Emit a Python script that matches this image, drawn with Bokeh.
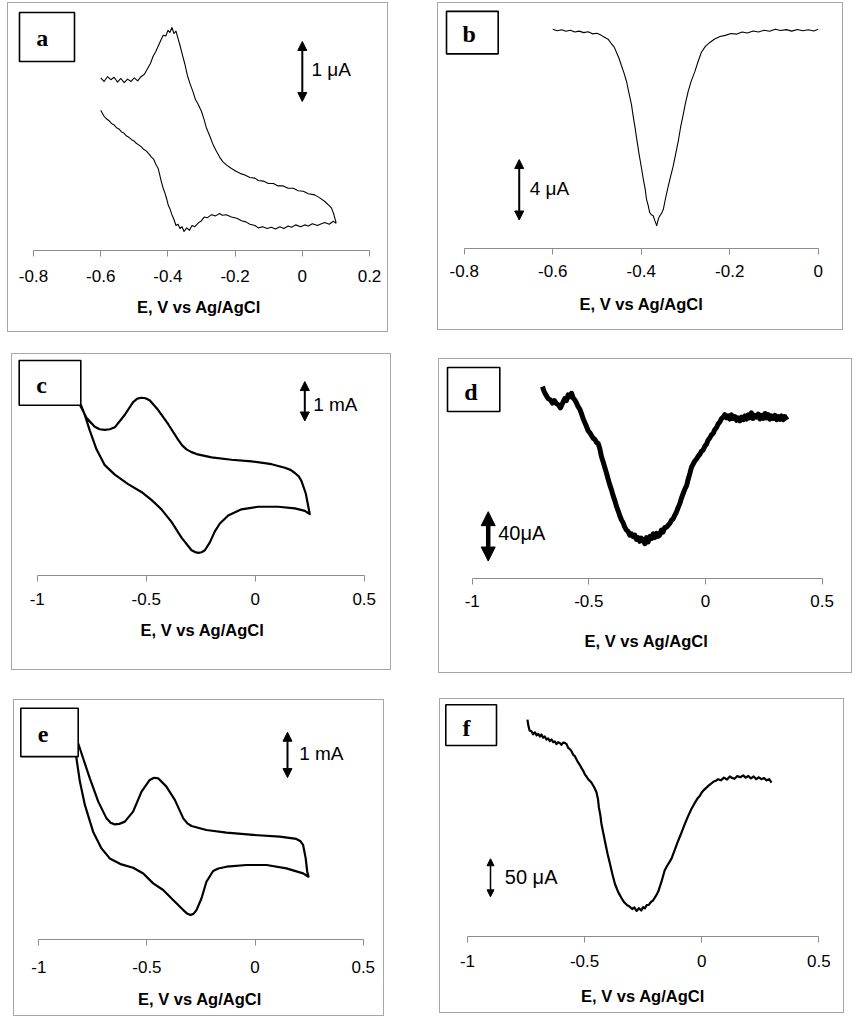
from bokeh.plotting import figure
from bokeh.layouts import row, column
from bokeh.models import (FixedTicker, NumeralTickFormatter, BoxAnnotation, Label,
                          Arrow, NormalHead)
from bokeh.embed import file_html
from bokeh.resources import INLINE

# ---------------- data (E in V vs Ag/AgCl, current in panel units) ----------------
# (a) CV, uA
a_scan = [(-0.600, 2.06), (-0.590, 2.00), (-0.580, 2.08), (-0.570, 2.03), (-0.560, 2.07), (-0.550, 1.99),
          (-0.540, 2.05), (-0.530, 1.98), (-0.520, 2.04), (-0.510, 2.00), (-0.500, 2.06), (-0.490, 2.01),
          (-0.480, 2.08), (-0.470, 2.12), (-0.460, 2.22), (-0.452, 2.30), (-0.444, 2.42), (-0.436, 2.50),
          (-0.428, 2.60), (-0.420, 2.70), (-0.414, 2.77), (-0.406, 2.76), (-0.400, 2.85), (-0.394, 2.82),
          (-0.388, 2.90), (-0.382, 2.80), (-0.376, 2.84), (-0.370, 2.72), (-0.364, 2.60), (-0.358, 2.47),
          (-0.350, 2.30), (-0.342, 2.10), (-0.334, 1.96), (-0.326, 1.84), (-0.318, 1.70), (-0.310, 1.62),
          (-0.300, 1.50), (-0.292, 1.36), (-0.285, 1.22), (-0.276, 1.10), (-0.265, 0.94), (-0.256, 0.84),
          (-0.246, 0.74), (-0.236, 0.66), (-0.226, 0.61), (-0.211, 0.55), (-0.196, 0.50), (-0.181, 0.46),
          (-0.171, 0.44), (-0.156, 0.40), (-0.141, 0.39), (-0.131, 0.35), (-0.116, 0.34), (-0.101, 0.30),
          (-0.086, 0.30), (-0.072, 0.26), (-0.057, 0.26), (-0.042, 0.22), (-0.027, 0.22), (-0.012, 0.18),
          (0.003, 0.17), (0.018, 0.13), (0.037, 0.11), (0.052, 0.06), (0.067, 0.00), (0.080, -0.07),
          (0.087, -0.11), (0.093, -0.20), (0.097, -0.28), (0.100, -0.34),
          (0.100, -0.36), (0.092, -0.33), (0.080, -0.38), (0.067, -0.35), (0.057, -0.37), (0.045, -0.40),
          (0.030, -0.37), (0.018, -0.41), (0.007, -0.39), (-0.005, -0.42), (-0.020, -0.39), (-0.032, -0.43),
          (-0.042, -0.41), (-0.055, -0.45), (-0.067, -0.42), (-0.080, -0.46), (-0.092, -0.43), (-0.105, -0.45),
          (-0.118, -0.42), (-0.131, -0.44), (-0.141, -0.40), (-0.156, -0.38), (-0.168, -0.34), (-0.181, -0.32),
          (-0.195, -0.28), (-0.211, -0.26), (-0.226, -0.22), (-0.238, -0.23), (-0.246, -0.20), (-0.258, -0.24),
          (-0.270, -0.22), (-0.282, -0.27), (-0.292, -0.26), (-0.300, -0.32), (-0.310, -0.36), (-0.320, -0.42),
          (-0.328, -0.40), (-0.336, -0.48), (-0.344, -0.44), (-0.352, -0.50), (-0.358, -0.42), (-0.364, -0.45),
          (-0.370, -0.38), (-0.376, -0.40), (-0.382, -0.30), (-0.388, -0.22), (-0.394, -0.12), (-0.399, -0.06),
          (-0.404, 0.05), (-0.410, 0.16), (-0.414, 0.22), (-0.420, 0.34), (-0.425, 0.46), (-0.429, 0.55),
          (-0.436, 0.62), (-0.442, 0.70), (-0.449, 0.74), (-0.456, 0.79), (-0.464, 0.84), (-0.472, 0.87),
          (-0.479, 0.91), (-0.486, 0.94), (-0.494, 0.97), (-0.501, 1.01), (-0.508, 1.03), (-0.516, 1.07),
          (-0.523, 1.09), (-0.531, 1.14), (-0.538, 1.16), (-0.546, 1.21), (-0.553, 1.23), (-0.561, 1.28),
          (-0.568, 1.30), (-0.576, 1.35), (-0.583, 1.38), (-0.590, 1.42), (-0.595, 1.47), (-0.600, 1.52)]

# (b) stripping voltammogram, uA
b_scan = [(-0.600, -0.02), (-0.590, -0.12), (-0.580, -0.05), (-0.570, -0.15), (-0.560, -0.08), (-0.550, -0.20),
          (-0.540, -0.14), (-0.530, -0.24), (-0.520, -0.18), (-0.510, -0.32), (-0.500, -0.28), (-0.490, -0.42),
          (-0.482, -0.56), (-0.474, -0.70), (-0.467, -0.99), (-0.461, -1.20), (-0.456, -1.54), (-0.450, -1.95),
          (-0.445, -2.40), (-0.439, -2.90), (-0.433, -3.49), (-0.428, -4.20), (-0.422, -5.00), (-0.418, -5.80),
          (-0.414, -6.51), (-0.410, -7.30), (-0.405, -8.25), (-0.400, -9.10), (-0.395, -9.98), (-0.391, -10.60),
          (-0.388, -11.28), (-0.384, -11.70), (-0.381, -12.14), (-0.377, -12.30), (-0.373, -12.36), (-0.369, -12.70),
          (-0.365, -13.01), (-0.361, -12.55), (-0.358, -12.36), (-0.354, -12.20), (-0.350, -11.93), (-0.345, -11.20),
          (-0.339, -10.41), (-0.334, -9.80), (-0.328, -9.11), (-0.322, -8.25), (-0.316, -7.38), (-0.311, -6.50),
          (-0.305, -5.65), (-0.300, -4.90), (-0.294, -4.14), (-0.287, -3.45), (-0.279, -2.84), (-0.272, -2.20),
          (-0.264, -1.54), (-0.255, -1.15), (-0.245, -0.89), (-0.234, -0.66), (-0.222, -0.50), (-0.210, -0.42),
          (-0.197, -0.30), (-0.185, -0.34), (-0.172, -0.20), (-0.160, -0.26), (-0.147, -0.13), (-0.135, -0.20),
          (-0.122, -0.08), (-0.110, -0.15), (-0.097, -0.02), (-0.085, -0.10), (-0.072, -0.04), (-0.060, -0.14),
          (-0.047, -0.03), (-0.035, -0.12), (-0.022, -0.05), (-0.010, -0.13), (0.000, -0.02)]

# (c) CV, mA
c_scan = [(-0.805, 1.439), (-0.774, 1.103), (-0.736, 0.880), (-0.713, 0.815), (-0.690, 0.799), (-0.667, 0.815),
          (-0.644, 0.863), (-0.598, 1.182), (-0.560, 1.504), (-0.541, 1.590), (-0.522, 1.614), (-0.503, 1.600),
          (-0.483, 1.542), (-0.445, 1.302), (-0.399, 0.942), (-0.353, 0.544), (-0.334, 0.400), (-0.315, 0.305),
          (-0.292, 0.235), (-0.269, 0.185), (-0.200, 0.103), (-0.109, 0.041), (-0.017, 0.000), (0.075, -0.072),
          (0.136, -0.161), (0.162, -0.215), (0.182, -0.295), (0.200, -0.380), (0.212, -0.496), (0.232, -0.815),
          (0.246, -1.216), (0.250, -1.336),
          (0.228, -1.254), (0.182, -1.192), (0.106, -1.151), (0.014, -1.151), (-0.063, -1.216), (-0.124, -1.374),
          (-0.162, -1.576), (-0.185, -1.775), (-0.208, -2.055), (-0.231, -2.254), (-0.246, -2.305), (-0.261, -2.319),
          (-0.276, -2.300), (-0.292, -2.254), (-0.338, -1.935), (-0.384, -1.535), (-0.430, -1.216), (-0.476, -0.976),
          (-0.522, -0.775), (-0.583, -0.576), (-0.644, -0.336), (-0.690, -0.096), (-0.728, 0.305), (-0.759, 0.784),
          (-0.782, 1.182), (-0.800, 1.439)]

# (d) stripping voltammogram, uA
d_scan = [(-0.699, 24.3), (-0.690, 19.5), (-0.682, 17.0), (-0.674, 14.5), (-0.665, 13.5), (-0.656, 11.0),
          (-0.648, 13.0), (-0.639, 10.5), (-0.630, 9.5), (-0.622, 7.0), (-0.617, 9.0), (-0.610, 12.0),
          (-0.603, 14.5), (-0.596, 13.0), (-0.589, 17.6), (-0.582, 16.0), (-0.574, 18.9), (-0.567, 15.0),
          (-0.560, 13.5), (-0.553, 11.0), (-0.546, 8.0), (-0.539, 6.0), (-0.532, 2.7), (-0.524, -2.0),
          (-0.517, -5.0), (-0.510, -8.1), (-0.503, -11.5), (-0.496, -13.0), (-0.488, -15.5), (-0.481, -17.6),
          (-0.474, -18.5), (-0.467, -21.0), (-0.460, -21.7), (-0.453, -26.0), (-0.446, -32.4), (-0.439, -36.5),
          (-0.432, -41.0), (-0.424, -46.0), (-0.417, -51.0), (-0.410, -55.5), (-0.403, -59.4), (-0.396, -64.0),
          (-0.388, -68.5), (-0.381, -73.0), (-0.374, -76.5), (-0.367, -80.5), (-0.360, -83.8), (-0.353, -86.0),
          (-0.346, -89.5), (-0.339, -91.9), (-0.332, -93.0), (-0.325, -96.0), (-0.317, -95.0), (-0.310, -97.3),
          (-0.303, -96.0), (-0.296, -99.5), (-0.289, -98.0), (-0.282, -101.0), (-0.275, -98.5), (-0.267, -100.0),
          (-0.260, -103.0), (-0.253, -98.0), (-0.246, -101.5), (-0.238, -97.0), (-0.231, -98.7), (-0.224, -95.0),
          (-0.217, -98.0), (-0.210, -94.5), (-0.203, -97.0), (-0.196, -95.9), (-0.189, -92.0), (-0.182, -93.5),
          (-0.175, -90.0), (-0.167, -89.5), (-0.160, -88.0), (-0.153, -86.5), (-0.146, -84.0), (-0.139, -83.0),
          (-0.132, -80.0), (-0.125, -77.5), (-0.118, -74.0), (-0.110, -70.5), (-0.103, -66.0), (-0.096, -62.5),
          (-0.089, -59.0), (-0.081, -56.0), (-0.074, -50.5), (-0.067, -46.0), (-0.060, -41.0), (-0.053, -38.5),
          (-0.046, -36.0), (-0.039, -34.5), (-0.031, -32.0), (-0.024, -30.5), (-0.017, -28.0), (-0.010, -27.0),
          (-0.003, -24.0), (0.004, -22.5), (0.011, -19.0), (0.018, -17.5), (0.025, -15.0), (0.033, -13.5),
          (0.040, -10.5), (0.047, -9.0), (0.054, -6.0), (0.061, -4.5), (0.069, -1.5), (0.076, -0.5),
          (0.083, 1.5), (0.090, -1.0), (0.097, 0.5), (0.104, -2.0), (0.111, 1.5), (0.118, -1.5),
          (0.126, 0.0), (0.133, -3.0), (0.140, -1.0), (0.147, -3.5), (0.154, -0.5), (0.162, -2.5),
          (0.169, 0.5), (0.176, -2.0), (0.183, 1.5), (0.190, -1.0), (0.197, 3.0), (0.204, -1.5),
          (0.212, 1.0), (0.219, -0.5), (0.226, 2.0), (0.233, -2.0), (0.240, 1.0), (0.248, -1.5),
          (0.255, 2.5), (0.262, -1.0), (0.269, 1.5), (0.276, -2.0), (0.283, 0.5), (0.290, -1.5),
          (0.298, 1.0), (0.305, -2.5), (0.312, 0.0), (0.319, -2.2), (0.326, 0.5), (0.333, -2.5),
          (0.340, 0.0), (0.350, -2.7)]

# (e) CV, mA
e_scan = [(-0.818, 2.022), (-0.795, 1.691), (-0.764, 1.249), (-0.725, 0.735), (-0.687, 0.366), (-0.668, 0.270),
          (-0.649, 0.234), (-0.628, 0.245), (-0.602, 0.294), (-0.564, 0.514), (-0.525, 0.956), (-0.487, 1.214),
          (-0.467, 1.262), (-0.448, 1.249), (-0.410, 1.066), (-0.371, 0.773), (-0.332, 0.366), (-0.313, 0.255),
          (-0.294, 0.199), (-0.225, 0.110), (-0.132, 0.051), (-0.009, 0.000), (0.114, -0.038), (0.191, -0.088),
          (0.210, -0.140), (0.222, -0.221), (0.234, -0.517), (0.241, -0.810), (0.247, -0.921),
          (0.222, -0.848), (0.145, -0.737), (0.053, -0.662), (-0.040, -0.662), (-0.132, -0.700), (-0.170, -0.740),
          (-0.194, -0.795), (-0.225, -1.031), (-0.248, -1.400), (-0.271, -1.656), (-0.285, -1.740), (-0.299, -1.766),
          (-0.315, -1.730), (-0.332, -1.656), (-0.379, -1.435), (-0.425, -1.214), (-0.471, -1.068), (-0.517, -0.848),
          (-0.564, -0.722), (-0.618, -0.649), (-0.672, -0.517), (-0.710, -0.296), (-0.749, 0.073), (-0.787, 0.662),
          (-0.810, 1.177), (-0.826, 1.691), (-0.826, 1.987)]

# (f) stripping voltammogram, uA
f_scan = [(-0.744, 76.1), (-0.740, 68.0), (-0.735, 62.0), (-0.727, 60.9), (-0.720, 57.0), (-0.712, 59.5),
          (-0.705, 55.5), (-0.698, 57.5), (-0.691, 54.0), (-0.684, 56.6), (-0.677, 52.5), (-0.670, 54.0),
          (-0.663, 50.0), (-0.656, 51.5), (-0.648, 48.0), (-0.641, 50.1), (-0.634, 46.5), (-0.627, 47.5),
          (-0.620, 44.0), (-0.613, 46.5), (-0.606, 45.6), (-0.599, 43.0), (-0.592, 46.0), (-0.584, 45.6),
          (-0.577, 44.0), (-0.570, 39.0), (-0.563, 37.5), (-0.556, 34.8), (-0.549, 30.0), (-0.542, 28.5),
          (-0.534, 23.5), (-0.527, 19.6), (-0.520, 16.5), (-0.513, 12.5), (-0.506, 9.0), (-0.499, 4.4),
          (-0.492, 1.5), (-0.485, -2.0), (-0.478, -4.0), (-0.471, -6.5), (-0.464, -10.0), (-0.457, -14.0),
          (-0.449, -19.6), (-0.443, -28.0), (-0.439, -39.1), (-0.433, -49.0), (-0.428, -60.8), (-0.420, -73.0),
          (-0.411, -86.8), (-0.402, -100.0), (-0.392, -112.9), (-0.382, -126.0), (-0.371, -139.0), (-0.357, -150.0),
          (-0.342, -158.5), (-0.330, -164.0), (-0.320, -167.0), (-0.307, -169.5), (-0.297, -172.5), (-0.288, -170.5),
          (-0.278, -175.0), (-0.268, -171.5), (-0.258, -174.5), (-0.250, -170.0), (-0.243, -171.6), (-0.235, -167.5),
          (-0.226, -167.0), (-0.216, -163.0), (-0.207, -161.0), (-0.197, -156.0), (-0.186, -149.9), (-0.172, -137.0),
          (-0.158, -121.6), (-0.143, -113.5), (-0.129, -106.4), (-0.115, -95.0), (-0.100, -82.5), (-0.086, -72.0),
          (-0.072, -60.8), (-0.058, -50.5), (-0.044, -41.2), (-0.030, -33.5), (-0.017, -27.0), (-0.008, -23.9),
          (0.000, -19.5), (0.010, -16.0), (0.019, -13.5), (0.028, -10.8), (0.040, -8.0), (0.052, -5.0),
          (0.061, -4.0), (0.070, -2.1), (0.082, -3.5), (0.095, 0.0), (0.108, -2.5), (0.120, 1.5),
          (0.127, 0.0), (0.140, -1.5), (0.152, 2.0), (0.165, 0.5), (0.177, 3.0), (0.188, 0.0),
          (0.199, 2.2), (0.210, -1.0), (0.222, 1.5), (0.233, -2.0), (0.244, 0.5), (0.255, -2.1),
          (0.266, -0.5), (0.277, -3.5), (0.288, -2.0), (0.298, -6.5)]

panel_letters = ["a", "b", "c", "d", "e", "f"]
scale_values = [1, 4, 1, 40, 1, 50]
scale_texts = ["1 μA", "4 μA", "1 mA", "40μA", "1 mA", "50 μA"]
ticks_a = [-0.8, -0.6, -0.4, -0.2, 0, 0.2]
ticks_b = [-0.8, -0.6, -0.4, -0.2, 0]
ticks_cf = [-1, -0.5, 0, 0.5]
x_title = "E, V vs Ag/AgCl"

# ---------------- layout / styling ----------------
LAYOUT = {
    "a": dict(w=381, h=330, fh=247, xr=(-0.8744, 0.2595), yr=(-0.817, 3.300), margin=(2, 0, 0, 7),
              ticks=ticks_a, bounds=(-0.8, 0.2), lw=1.1, ls=13, ts=13,
              box=(-0.8417, -0.678, 2.333, 3.15), let=(-0.7738, 2.72),
              bar=(0.0, 1.667), bar_lbl=(0.027, 2.2), bar_lw=2, head=9, lbl_size="19px"),
    "b": dict(w=406, h=328, fh=250, xr=(-0.8581, 0.0594), yr=(-14.526, 1.688), margin=(2, 0, 0, 49),
              ticks=ticks_b, bounds=(-0.8, 0.0), lw=1.1, ls=10, ts=15,
              box=(-0.84, -0.7232, -1.643, 1.169), let=(-0.7887, -0.344),
              bar=(-0.6757, -12.64), bar_lbl=(-0.652, -10.56), bar_lw=2, head=9, lbl_size="19px"),
    "c": dict(w=380, h=317, fh=234, xr=(-1.1133, 0.6298), yr=(-2.894, 2.710), margin=(21, 0, 0, 11),
              ticks=ticks_cf, bounds=(-1, 0.5), lw=2.2, ls=11, ts=13,
              box=(-1.0826, -0.80, 1.422, 2.559), let=(-0.9803, 1.942),
              bar=(0.2275, 1.024), bar_lbl=(0.266, 1.439), bar_lw=2, head=9, lbl_size="19px"),
    "d": dict(w=414, h=315, fh=219, xr=(-1.1402, 0.6344), yr=(-131.14, 46.23), margin=(26, 0, 0, 47),
              ticks=ticks_cf, bounds=(-1, 0.5), lw=5.0, ls=10, ts=22,
              box=(-1.1059, -0.8817, 4.06, 39.74), let=(-1.006, 19.7),
              bar=(-0.9314, -117.0), bar_lbl=(-0.8886, -94.6), bar_lw=4.5, head=14, lbl_size="20px"),
    "e": dict(w=371, h=317, fh=239, xr=(-1.1123, 0.6029), yr=(-2.305, 2.965), margin=(26, 0, 0, 13),
              ticks=ticks_cf, bounds=(-1, 0.5), lw=2.2, ls=15, ts=14,
              box=(-1.0832, -0.8178, 1.728, 2.795), let=(-0.9797, 2.221),
              bar=(0.1498, 1.265), bar_lbl=(0.2039, 1.801), bar_lw=2, head=9, lbl_size="19px"),
    "f": dict(w=405, h=315, fh=239, xr=(-1.1153, 0.6140), yr=(-208.6, 102.6), margin=(25, 0, 0, 55),
              ticks=ticks_cf, bounds=(-1, 0.5), lw=2.2, ls=12, ts=17,
              box=(-1.0927, -0.8762, 42.24, 95.7), let=(-1.0043, 65.2),
              bar=(-0.9018, -156.5), bar_lbl=(-0.8407, -130.4), bar_lw=1.5, head=7, lbl_size="20px"),
}

GRAY = "#8c8c8c"


def make_panel(key, scan, scale_value, scale_text):
    cfg = LAYOUT[key]
    E = [pt[0] for pt in scan]
    I = [pt[1] for pt in scan]
    p = figure(width=cfg["w"], height=cfg["h"], x_range=cfg["xr"], y_range=cfg["yr"],
               output_backend="svg", toolbar_location=None, y_axis_location=None,
               min_border_left=0, min_border_right=0, min_border_top=0,
               min_border_bottom=cfg["h"] - cfg["fh"], outline_line_color=None,
               background_fill_color="white", border_fill_color="white",
               margin=cfg["margin"], styles={"border": "1px solid #a6a6a6"})
    p.grid.visible = False

    ax = p.xaxis[0]
    ax.ticker = FixedTicker(ticks=cfg["ticks"])
    ax.formatter = NumeralTickFormatter(format="0.[0]")
    ax.bounds = cfg["bounds"]
    ax.axis_line_color = GRAY
    ax.axis_line_width = 1
    ax.major_tick_line_color = GRAY
    ax.major_tick_out = 6
    ax.major_tick_in = 0
    ax.minor_tick_line_color = None
    ax.major_label_text_font = "Liberation Sans"
    ax.major_label_text_font_size = "17px"
    ax.major_label_text_color = "black"
    ax.major_label_standoff = cfg["ls"]
    ax.axis_label = x_title
    ax.axis_label_text_font = "Liberation Sans"
    ax.axis_label_text_font_style = "bold"
    ax.axis_label_text_font_size = "16.5px"
    ax.axis_label_text_color = "black"
    ax.axis_label_standoff = cfg["ts"]

    p.line(E, I, line_color="black", line_width=cfg["lw"], line_join="round")

    # panel letter box
    l, r, b, t = cfg["box"]
    p.add_layout(BoxAnnotation(left=l, right=r, bottom=b, top=t, fill_color="white", fill_alpha=1.0,
                               line_color="black", line_width=1.6, line_alpha=1.0))
    p.add_layout(Label(x=cfg["let"][0], y=cfg["let"][1], text=key, text_font="Liberation Serif",
                       text_font_style="bold", text_font_size="24px", text_align="center",
                       text_baseline="middle", text_color="black"))

    # scale bar
    bx, by = cfg["bar"]
    hs = cfg["head"]
    p.add_layout(Arrow(start=NormalHead(size=hs, fill_color="black", line_color="black", line_width=1),
                       end=NormalHead(size=hs, fill_color="black", line_color="black", line_width=1),
                       x_start=bx, y_start=by, x_end=bx, y_end=by + scale_value,
                       line_color="black", line_width=cfg["bar_lw"]))
    p.add_layout(Label(x=cfg["bar_lbl"][0], y=cfg["bar_lbl"][1], text=scale_text,
                       text_font="Liberation Sans", text_font_size=cfg["lbl_size"],
                       text_align="left", text_baseline="middle", text_color="black"))
    return p


scans = [a_scan, b_scan, c_scan, d_scan, e_scan, f_scan]
panels = [make_panel(k, s, v, t) for k, s, v, t in zip(panel_letters, scans, scale_values, scale_texts)]

layout = column(row(panels[0], panels[1]), row(panels[2], panels[3]), row(panels[4], panels[5]))

open("out.html", "w").write(file_html(layout, INLINE))
